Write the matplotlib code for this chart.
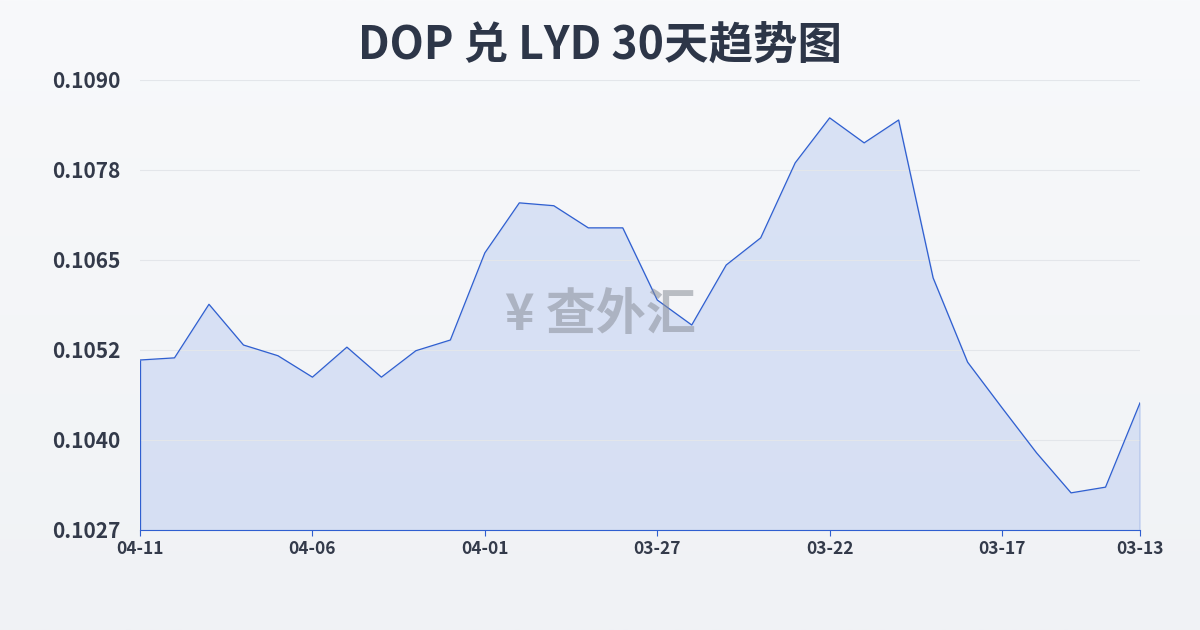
import matplotlib
matplotlib.use("Agg")
import matplotlib.pyplot as plt
import numpy as np

plt.rcParams['font.family'] = ['Noto Sans CJK SC', 'DejaVu Sans']

dates = ["04-11","04-10","04-09","04-08","04-07","04-06","04-05","04-04","04-03","04-02",
         "04-01","03-31","03-30","03-29","03-28","03-27","03-26","03-25","03-24","03-23",
         "03-22","03-21","03-20","03-19","03-18","03-17","03-16","03-15","03-14","03-13"]
values = [0.10508,0.10511,0.10586,0.10529,0.10514,0.10484,0.10526,0.10484,0.10521,0.10536,
          0.10658,0.10728,0.10724,0.10693,0.10693,0.10592,0.10557,0.10641,0.10679,0.10784,
          0.10847,0.10812,0.10844,0.10623,0.10505,0.10441,0.10378,0.10322,0.10330,0.10448]
tick_labels = ["0.1027","0.1040","0.1052","0.1065","0.1078","0.1090"]
ymin, ymax = 0.1027, 0.1090

fig = plt.figure(figsize=(12, 6.3), dpi=100)
bg = fig.add_axes([0, 0, 1, 1], zorder=-1)
grad = np.linspace(1, 0, 256).reshape(-1, 1)
bg.imshow(grad, aspect='auto', cmap=matplotlib.colors.LinearSegmentedColormap.from_list('g', ['#f0f2f5', '#f8f9fb']), extent=[0,1,0,1])
bg.axis('off')

ax = fig.add_axes([140/1200, 100/630, 1000/1200, 450/630])
ax.patch.set_alpha(0)
x = np.arange(len(values))
ax.plot(x, values, color='#2f5fd0', lw=0.9)
ax.fill_between(x, values, ymin, color='#c5d3f2', alpha=0.6)
ax.vlines([x[0], x[-1]], ymin, [values[0], values[-1]], color='#2f5fd0', lw=0.9)
ax.set_xlim(0, len(values)-1)
ax.set_ylim(ymin, ymax)
yt = np.linspace(ymin, ymax, 6)
ax.set_yticks(yt)
ax.set_yticklabels(tick_labels)
ax.set_xticks(x[::5].tolist() + [29])
ax.set_xticklabels([dates[i] for i in list(range(0, 30, 5)) + [29]])
ax.grid(axis='y', color='#e3e6ea', lw=0.8)
for s in ['top', 'right', 'left']:
    ax.spines[s].set_visible(False)
ax.spines['bottom'].set_color('#2f5fd0')
ax.tick_params(axis='y', length=0, pad=14, labelsize=15, labelcolor='#333a4a')
ax.tick_params(axis='x', length=4, color='#2f5fd0', labelsize=12.5, labelcolor='#333a4a')
for t in ax.get_yticklabels() + ax.get_xticklabels():
    t.set_fontweight('bold')

fig.text(0.5, 0.927, "DOP 兑 LYD 30天趋势图", ha='center', va='center', fontsize=32,
         fontweight='bold', color='#2d3648')
fig.text(0.5, 0.5, "¥ 查外汇", ha='center', va='center', fontsize=36, fontweight='bold',
         color='#8a8f99', alpha=0.55)

fig.savefig("out.png", dpi=100)
